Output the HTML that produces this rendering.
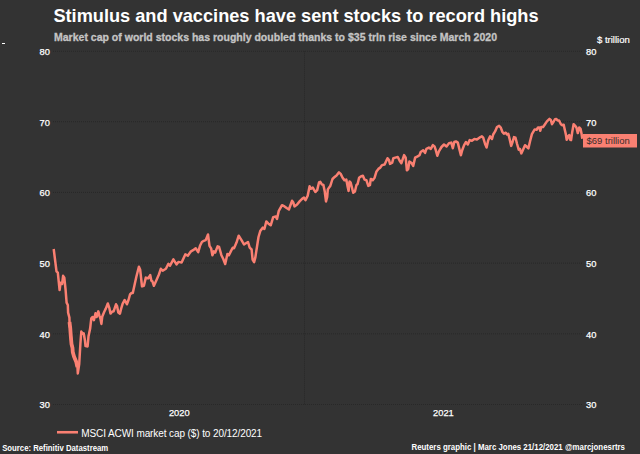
<!DOCTYPE html>
<html><head><meta charset="utf-8"><style>
html,body{margin:0;padding:0;background:#333333;}
body{width:640px;height:454px;overflow:hidden;position:relative;}
svg{position:absolute;left:0;top:0;}
.ax{font-family:"Liberation Sans",Arial,sans-serif;font-size:9.3px;fill:#ffffff;stroke:#ffffff;stroke-width:0.25px;}
.t{font-family:"Liberation Sans",Arial,sans-serif;}
</style></head><body>
<svg width="640" height="454" viewBox="0 0 640 454">
<rect x="0" y="0" width="640" height="454" fill="#333333"/>
<line x1="53" y1="51.3" x2="582" y2="51.3" stroke="#282828" stroke-width="1" stroke-dasharray="1 1"/>
<line x1="53" y1="121.7" x2="582" y2="121.7" stroke="#282828" stroke-width="1" stroke-dasharray="1 1"/>
<line x1="53" y1="192.4" x2="582" y2="192.4" stroke="#282828" stroke-width="1" stroke-dasharray="1 1"/>
<line x1="53" y1="263.1" x2="582" y2="263.1" stroke="#282828" stroke-width="1" stroke-dasharray="1 1"/>
<line x1="53" y1="333.8" x2="582" y2="333.8" stroke="#282828" stroke-width="1" stroke-dasharray="1 1"/>
<line x1="53" y1="404.5" x2="582" y2="404.5" stroke="#282828" stroke-width="1" stroke-dasharray="1 1"/>
<line x1="304.5" y1="51.3" x2="304.5" y2="404.5" stroke="#282828" stroke-width="1" stroke-dasharray="1 1"/>
<text x="49.9" y="55.1" text-anchor="end" class="ax">80</text>
<text x="49.9" y="125.5" text-anchor="end" class="ax">70</text>
<text x="49.9" y="196.2" text-anchor="end" class="ax">60</text>
<text x="49.9" y="266.9" text-anchor="end" class="ax">50</text>
<text x="49.9" y="337.6" text-anchor="end" class="ax">40</text>
<text x="49.9" y="408.3" text-anchor="end" class="ax">30</text>
<text x="586" y="55.1" class="ax">80</text>
<text x="586" y="125.5" class="ax">70</text>
<text x="586" y="196.2" class="ax">60</text>
<text x="586" y="266.9" class="ax">50</text>
<text x="586" y="337.6" class="ax">40</text>
<text x="586" y="408.3" class="ax">30</text>
<text x="179.3" y="416.3" text-anchor="middle" class="ax">2020</text>
<text x="443.4" y="416.3" text-anchor="middle" class="ax">2021</text>
<text x="53.4" y="21.6" class="t" font-size="18.2" font-weight="700" fill="#ffffff">Stimulus and vaccines have sent stocks to record highs</text>
<text x="54" y="40.9" class="t" font-size="11" font-weight="700" fill="#c4c4c4" stroke="#c4c4c4" stroke-width="0.3" textLength="443" lengthAdjust="spacingAndGlyphs">Market cap of world stocks has roughly doubled thanks to $35 trln rise since March 2020</text>
<text x="597" y="43.1" class="t" font-size="9.5" fill="#ffffff" stroke="#ffffff" stroke-width="0.2">$ trillion</text>
<rect x="2" y="43" width="3" height="1" fill="#ffffff"/>
<polyline points="53.7,249 56.5,271.4 57.8,272.7 59.6,290 60.6,282.7 62.1,284 63.1,275.8 64.3,277.7 65.6,290 66.6,302.6 67.8,305 68.1,312.6 69.4,317.6 69.6,325 70.25,328.3 70.8,336 71.5,344 72.5,348 72.75,352 74,356.6 76.3,362 77.5,367.5 77.8,373.4 79.2,364 80.4,343.8 81.3,331.6 82.8,333.8 83.7,333.3 85,340.8 85.5,346.1 87.6,346.4 88.5,336.3 90.1,328.8 91.3,318.3 92.6,317 93.9,320.2 95.5,313.2 96.7,317 98.3,311.4 99.5,315.8 100.5,318.9 101.4,323.9 102.3,316.4 104.25,311.7 105.8,308.6 107.8,303.5 109.3,307.8 110.5,313.6 112.1,311.7 113.6,311.3 116,304.3 117.1,306.2 118.3,312.5 119.9,313.6 121.4,307.8 122.6,303.9 124.6,300 125.7,301.9 126.9,304.3 128.5,300 130,294.5 131.6,292.9 132.8,292.9 133.5,289.8 134.7,284.3 136.3,277 138.9,266.8 140.2,269.8 142,286.4 143.9,285.8 145.8,277.6 148.3,278.3 150.2,275.1 151.4,280.8 152.4,281.4 153.9,285.8 156.4,280.2 158.9,274.5 160.8,268.8 162.7,270.7 165.9,268.8 168.4,263.8 170,265.7 173.4,259.4 174.6,261.3 176.5,264.4 178.4,261.9 181.6,262.6 185.3,254.4 187.8,255.7 191,251.3 193.1,250.2 195.7,248.3 198.2,252.1 200,245.8 201.9,242 203.8,240.8 205.7,240.1 208,234.5 209.5,245.8 211.1,248.3 212.4,255.2 213.9,251.4 215.1,252.7 217.6,246.4 219.1,247 221.4,255.2 223.3,259 225.2,264 227.4,254 228.9,255.2 230.8,251.4 232.7,247.7 234,248.3 236.5,242.6 238.7,235.7 241.5,240.1 244,244.5 245.9,243.3 248,242 249.7,247.7 251.6,249.5 252.6,259.6 254.1,262.1 255.3,257.7 258.5,237 260.4,230.7 262.9,227.6 264.4,229 266.3,221.5 268.2,223.4 270.7,225.3 273.2,217.1 275.7,216.5 277,219 278.8,210.8 282,205.2 284.5,206.4 287,208.3 288.9,209.5 292,200.8 293.3,202.6 294.5,206.4 297.1,204.5 299.6,201.4 302.1,198.9 304,197.6 305.5,200.1 307.7,195.7 309.6,186.3 310.9,188.8 312.8,187.6 315.3,192 317.2,190.1 319,182.5 320.3,181.9 321.8,184.4 323.4,185 324.7,191.3 326,201.4 327.2,197 327.8,189.4 330.4,185.7 332.5,179 334.4,177.1 336.3,175.8 339,172.4 340.7,173.9 342.6,177.7 344.4,180.2 346.3,179.6 347.6,186.5 348.6,190.9 349.5,181.5 350.7,182.7 352,187.7 353.2,192.8 354.9,191.5 356.4,185.2 357.6,184 359.1,177.7 360.8,176.4 362.9,175.8 364.5,179.6 366.4,180.2 368.3,185.9 369.9,185.2 370.8,178.9 372.7,180.2 374.6,177.7 376.5,171.4 378.4,168.9 380.3,167.6 382.1,165.1 384.6,164.5 387.5,158.2 389,160.1 390,163.9 392.2,162.6 393.4,158.2 395.3,157.6 397.8,157 399.7,160.7 401.4,163.2 404.1,155.1 405.7,157.7 406.9,170.3 408.2,169 409.4,161.5 411.3,162.7 413.2,165.9 415.1,157.7 417.6,156.4 419.5,155.2 420.7,152 423.2,150.2 425.1,152.9 426.4,148.9 428.9,147.6 430.8,148.9 432.9,145.1 434.5,146.4 435.8,150.2 437.3,155.8 438.9,151.4 441.5,147 444,144.5 446.5,146.4 449,143.2 451.3,142.6 452.8,148.3 454.3,142 455.9,141.4 457.8,142.6 459.3,148.9 460.9,155.2 462.2,150.2 464.1,145.1 466,142 467.8,144.5 469.7,140.1 471.9,140.8 474.4,138.9 476.9,139.6 479.4,137.7 481.9,136.4 483.2,137.7 485.1,144 486.6,147.5 488.2,140.2 490.1,136.4 492,138.9 493.2,134.5 495.1,131.4 497,127 499.1,125.8 500.8,127.6 502.4,132 503.9,133.7 505.8,132.7 507.1,134.5 508.3,133.9 509.6,138.9 511.2,145.9 512.7,141.5 514,137.1 515.5,137.7 517.1,144 518.7,149.6 520,149 521.3,153.4 522.8,150.2 525,145.2 526.5,146.5 528.4,148.4 530,141.5 531.9,134.1 534.7,129.4 536.6,129.8 538,127.5 539.4,127.5 540.3,130.8 541.2,127 543.1,127 545,124.2 546.9,121.4 549.5,118.9 550.8,120 552,124.2 553.2,122.3 554.8,119.5 556.2,118.9 557.6,120.5 559.1,120.5 560.9,124.2 562.3,125.2 563.7,124.7 564.9,130.3 565.8,134.1 566.7,139.7 568,136.4 569.2,135 570.1,139.7 571.1,140.1 572.2,132.2 573.6,124.2 575,125.6 576.4,127.5 577.8,133.1 579.2,127.5 580.6,128.9 581.6,134.1 582.3,138.8" fill="none" stroke="#fa8072" stroke-width="2.5" stroke-linejoin="round" stroke-linecap="butt"/>
<polyline points="69.5,322 70.25,328.3 70.8,336 71.5,344 72.5,348 72.75,352 74,356.6 76.3,362 77.4,367" fill="none" stroke="#fa8072" stroke-width="3.8" stroke-linejoin="round"/>
<rect x="583" y="134" width="54" height="13.5" fill="#fa8072"/>
<text x="586.5" y="144.3" class="t" font-size="9.5" fill="#3a2d2b">$69 trillion</text>
<line x1="57" y1="432.25" x2="78" y2="432.25" stroke="#fa8072" stroke-width="2.6"/>
<text x="81.3" y="436.8" class="t" font-size="10" fill="#ffffff" letter-spacing="-0.1">MSCI ACWI market cap ($) to 20/12/2021</text>
<text x="2.2" y="451" class="t" font-size="9" fill="#ffffff" font-weight="700" textLength="106" lengthAdjust="spacingAndGlyphs">Source: Refinitiv Datastream</text>
<text x="411.5" y="449.8" class="t" font-size="9" fill="#ffffff" font-weight="700" textLength="213.5" lengthAdjust="spacingAndGlyphs">Reuters graphic | Marc Jones 21/12/2021 @marcjonesrtrs</text>
</svg>
</body></html>
